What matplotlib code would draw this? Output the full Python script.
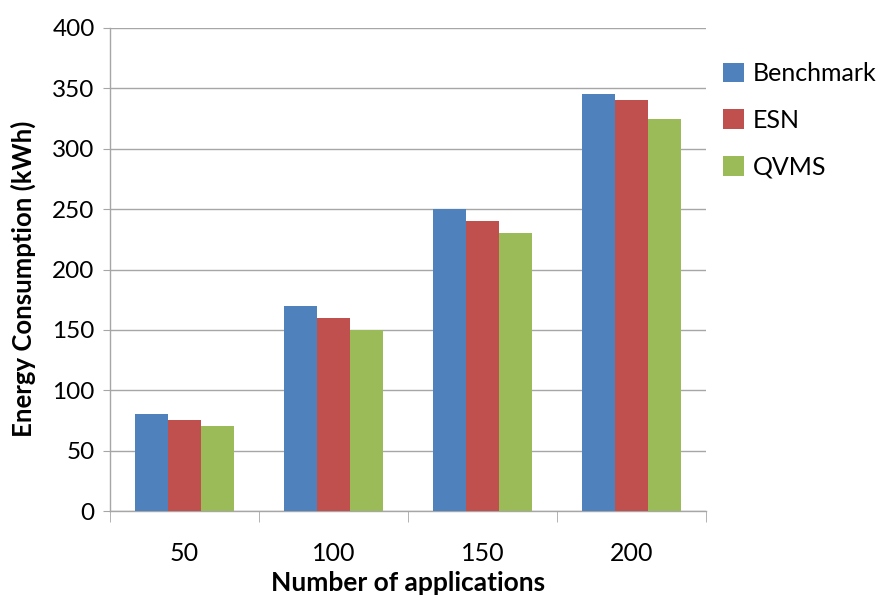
import matplotlib
matplotlib.use("Agg")
import matplotlib.pyplot as plt
import numpy as np

plt.rcParams['font.family'] = ['Lato', 'DejaVu Sans']

categories = ["50", "100", "150", "200"]
series_names = ["Benchmark", "ESN", "QVMS"]
benchmark = [80, 170, 250, 345]
esn = [75, 160, 240, 340]
qvms = [70, 150, 230, 325]
colors = ["#4F81BD", "#C0504D", "#9BBB59"]
yticks = [0, 50, 100, 150, 200, 250, 300, 350, 400]

fig = plt.figure(figsize=(8.82, 6.0), dpi=100)
ax = fig.add_axes([110/882, 89/600, 596/882, 483/600])

x = np.arange(len(categories))
w = 0.222
for i, (vals, c, name) in enumerate(zip([benchmark, esn, qvms], colors, series_names)):
    ax.bar(x + (i - 1) * w, vals, width=w, color=c, label=name, zorder=3, linewidth=0)

ax.set_xlim(-0.5, 3.5)
ax.set_ylim(0, 400)
ax.set_yticks(yticks)
ax.yaxis.grid(True, color="#A6A6A6", linewidth=1.0, zorder=0)
ax.set_axisbelow(True)

ax.set_xticks(x)
ax.set_xticklabels(categories)
ax.set_xticks(np.arange(-0.5, 3.6, 1.0), minor=True)
ax.tick_params(axis='x', which='major', length=0, pad=22, labelsize=18)
ax.tick_params(axis='x', which='minor', length=8, color="#A6A6A6", direction='out')
ax.tick_params(axis='y', which='major', length=5, color="#A6A6A6", labelsize=17.5, pad=6)

for s in ['top', 'right']:
    ax.spines[s].set_visible(False)
for s in ['left', 'bottom']:
    ax.spines[s].set_color("#A6A6A6")
    ax.spines[s].set_linewidth(1.0)

ax.set_ylabel("Energy Consumption (kWh)", fontsize=18.5, fontweight='bold')
ax.yaxis.set_label_coords(-0.124, 0.48)
ax.set_xlabel("Number of applications", fontsize=19, fontweight='bold')
ax.xaxis.set_label_coords(0.5, -0.124)

leg = ax.legend(loc='upper left', bbox_to_anchor=(1.012, 0.95), frameon=False,
                fontsize=18, handlelength=0.85, handleheight=0.85, handletextpad=0.35,
                labelspacing=0.95, borderaxespad=0)

fig.savefig("out.png", dpi=100)
